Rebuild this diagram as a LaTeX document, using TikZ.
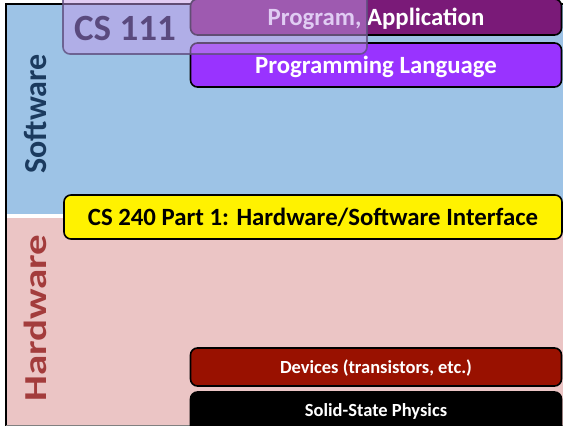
\documentclass[tikz,border=0pt]{standalone}
\usepackage{fontspec}
\setmainfont{Carlito}
\usetikzlibrary{positioning}

\definecolor{swblue}{HTML}{9DC3E6}
\definecolor{hwpink}{HTML}{EBC5C5}
\definecolor{swtext}{HTML}{1B3A5E}
\definecolor{hwtext}{HTML}{A33C3C}
\definecolor{appcol}{HTML}{7A1A78}
\definecolor{langcol}{HTML}{9933FF}
\definecolor{devcol}{HTML}{991100}
\definecolor{csfill}{HTML}{C39AE8}
\definecolor{csline}{HTML}{5E4E7E}
\definecolor{cstext}{HTML}{5A4A7E}

\begin{document}
\begin{tikzpicture}[x=1pt, y=-1pt]
\tikzstyle{layer} = [rectangle, draw = black, line width = 1.6pt, rounded corners = 7pt, inner sep = 0pt, text depth = 0pt, font = \bfseries\fontsize{24.8}{29}\selectfont]
\tikzstyle{small} = [layer, font = \bfseries\fontsize{18.5}{22}\selectfont]
\tikzstyle{side} = [rotate = 90, inner sep = 0pt, font = \bfseries\fontsize{32}{37}\selectfont]
\useasboundingbox (0, 0) rectangle (563, 426);
\clip (0, 0) rectangle (563, 426);
% -----------------------------------
% Backgrounds
\fill[swblue] (6, 4) rectangle (563, 214);
\fill[white] (6, 214) rectangle (563, 218);
\fill[hwpink] (6, 218) rectangle (563, 426);
\draw[black, line width = 1.2pt] (6, 426) -- (6, 4) -- (563, 4);
\draw[gray, line width = 1pt] (6, 425) -- (563, 425);

\node[side, text = swtext] (sw) at (35, 114) {Software};
\node[side, text = hwtext] (hw) at (35, 318) {\scalebox{1.28}[1]{Hardware}};

% -----------------------------------
% Software layers
\node[layer, fill = appcol, text = white, minimum width = 371pt, minimum height = 36pt] (app) at (376, 17) {Program, Application};
\node[layer, fill = langcol, text = white, minimum width = 371pt, minimum height = 44pt] (lang) at (376, 65) {Programming Language};

% -----------------------------------
% CS 111 overlay
\node[rectangle, draw = csline, draw opacity = 0.8, line width = 1.6pt, rounded corners = 7pt, fill = csfill, fill opacity = 0.5, minimum width = 304pt, minimum height = 70pt] (cs111) at (215, 19) {};
\node[text = cstext, inner sep = 0pt, font = \bfseries\fontsize{37}{42}\selectfont] (cs111txt) at (125, 28) {CS 111};

% -----------------------------------
% Interface
\node[layer, fill = yellow, text = black, minimum width = 498pt, minimum height = 44pt] (hsi) at (313, 217) {CS 240 Part 1: Hardware/Software Interface};

% -----------------------------------
% Hardware layers
\node[small, fill = devcol, text = white, minimum width = 371pt, minimum height = 38pt] (dev) at (376, 367) {Devices (transistors, etc.)};
\node[small, fill = black, text = white, minimum width = 371pt, minimum height = 50pt] (phys) at (376, 417) {};
\node[text = white, inner sep = 0pt, font = \bfseries\fontsize{18.5}{22}\selectfont] (physlbl) at (376, 411) {Solid-State Physics};
% -----------------------------------
\end{tikzpicture}
\end{document}
